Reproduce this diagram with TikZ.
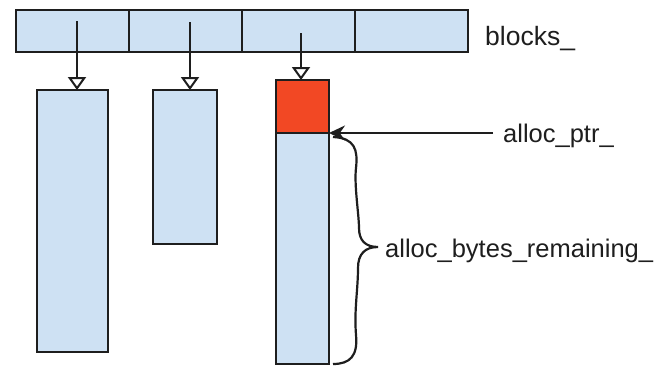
\documentclass[tikz,border=0pt]{standalone}
\usepackage{fontspec}
\setmainfont{Liberation Sans}
\usetikzlibrary{arrows.meta}
\definecolor{cellblue}{RGB}{206,225,243}
\definecolor{cellred}{RGB}{242,72,36}
\definecolor{edge}{RGB}{30,30,30}
\begin{document}
\begin{tikzpicture}[x=1pt,y=-1pt,
  cell/.style={draw=edge,line width=2.2pt,fill=cellblue,inner sep=0pt,outer sep=0pt},
  redcell/.style={draw=edge,line width=2.2pt,fill=cellred,inner sep=0pt,outer sep=0pt},
  ptrarrow/.style={draw=edge,line width=2.4pt,-{Triangle[open,length=13pt,width=18pt,fill=white,line width=2pt]}},
  leadarrow/.style={draw=edge,line width=2.4pt,-{Stealth[length=16pt,width=15pt]}},
  label/.style={font=\fontsize{25.5}{30}\selectfont,inner sep=0pt,anchor=base west,text=edge},
  bracepath/.style={draw=edge,line width=2.2pt}]
\useasboundingbox[fill=white] (0,0) rectangle (659,370);
% top block array
\node[cell,minimum width=113pt,minimum height=42pt] (b1) at (72.5,31) {};
\node[cell,minimum width=113pt,minimum height=42pt] (b2) at (185.5,31) {};
\node[cell,minimum width=113pt,minimum height=42pt] (b3) at (298.5,31) {};
\node[cell,minimum width=113pt,minimum height=42pt] (b4) at (411.5,31) {};
\node[label,font=\fontsize{26.5}{30}\selectfont] (blk) at (485,45) {blocks\_};
% blocks
\node[cell,minimum width=71pt,minimum height=262pt] (c1) at (72.5,221) {};
\node[cell,minimum width=64pt,minimum height=154pt] (c2) at (185,167) {};
\node[cell,minimum width=53pt,minimum height=231pt] (c3) at (302.5,248.5) {};
\node[redcell,minimum width=53pt,minimum height=53pt] (r3) at (302.5,106.5) {};
% pointers
\coordinate (s1) at (77,21);
\coordinate (s2) at (190,22);
\coordinate (s3) at (301,33);
\draw[ptrarrow] (s1) -- (s1 |- c1.north);
\draw[ptrarrow] (s2) -- (s2 |- c2.north);
\draw[ptrarrow] (s3) -- (s3 |- r3.north);
% alloc_ptr_
\node[label] (ptr) at (503,142) {alloc\_ptr\_};
\coordinate (ps) at (493,133);
\draw[leadarrow] (ps) -- (ps -| c3.north east);
% brace
\coordinate (bt) at (333,137);
\coordinate (bb) at (333,364);
\coordinate (tip) at (378,247);
\draw[bracepath] (bt) .. controls (355,138) and (358,150) .. (356,168)
  .. controls (354,185) and (359,215) .. (359,228)
  .. controls (359,240) and (365,247) .. (tip)
  .. controls (365,247) and (358,254) .. (358,268)
  .. controls (358,290) and (354,310) .. (356,335)
  .. controls (358,356) and (350,364) .. (bb);
\node[label] (rem) at (385,257) {alloc\_bytes\_remaining\_};
\end{tikzpicture}
\end{document}
